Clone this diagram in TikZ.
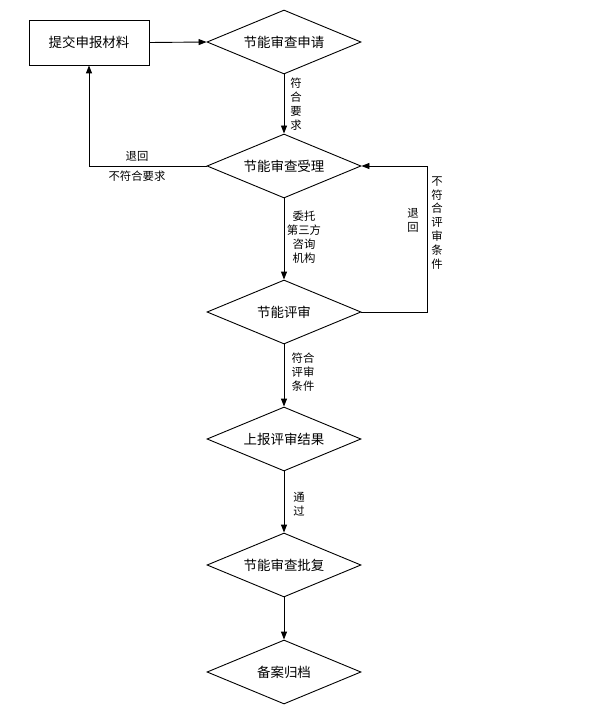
\documentclass[tikz,border=0pt]{standalone}
\usepackage{fontspec}
\setmainfont{Noto Sans CJK SC}
\usetikzlibrary{shapes.geometric,arrows.meta}
\begin{document}
\begin{tikzpicture}[x=1bp,y=-1bp,
  line width=0.9bp,
  dia/.style={draw,diamond,aspect=2.4,minimum width=154bp,minimum height=64bp,inner sep=0pt,font=\fontsize{13.5}{16}\selectfont},
  boxn/.style={draw,rectangle,minimum width=120bp,minimum height=45bp,inner sep=0pt,font=\fontsize{13.5}{16}\selectfont},
  lbl/.style={inner sep=0pt,align=center,font=\fontsize{11.4}{14}\selectfont},
  arr/.style={-{Triangle[length=8bp,width=6bp]}}]
\useasboundingbox (0,0) rectangle (591,716);
\node[boxn] (box) at (89,42.5) {提交申报材料};
\node[dia] (d1) at (284,42) {节能审查申请};
\node[dia] (d2) at (284,166) {节能审查受理};
\node[dia] (d3) at (284,312) {节能评审};
\node[dia] (d4) at (284,439) {上报评审结果};
\node[dia] (d5) at (284,565) {节能审查批复};
\node[dia] (d6) at (284,672) {备案归档};
\coordinate (c1) at (89,166);
\coordinate (c2) at (427,312);
\coordinate (c3) at (427,166);
\draw[arr] (box.east) -- (d1.west);
\draw[arr] (d1.south) -- (d2.north);
\draw[arr] (d2.west) -- (c1) -- (box.south);
\draw[arr] (d3.east) -- (c2) -- (c3) -- (d2.east);
\draw[arr] (d2.south) -- (d3.north);
\draw[arr] (d3.south) -- (d4.north);
\draw[arr] (d4.south) -- (d5.north);
\draw[arr] (d5.south) -- (d6.north);
\node[lbl] (l1) at (296,104) {符\\合\\要\\求};
\node[lbl] (l2) at (137,156) {退回};
\node[lbl] (l3) at (137,176) {不符合要求};
\node[lbl] (l4) at (304,237) {委托\\第三方\\咨询\\机构};
\node[lbl] (l5) at (413,220) {退\\回};
\node[lbl] (l6) at (437,223) {不\\符\\合\\评\\审\\条\\件};
\node[lbl] (l7) at (303,372) {符合\\评审\\条件};
\node[lbl] (l8) at (299,504) {通\\过};
\end{tikzpicture}
\end{document}
